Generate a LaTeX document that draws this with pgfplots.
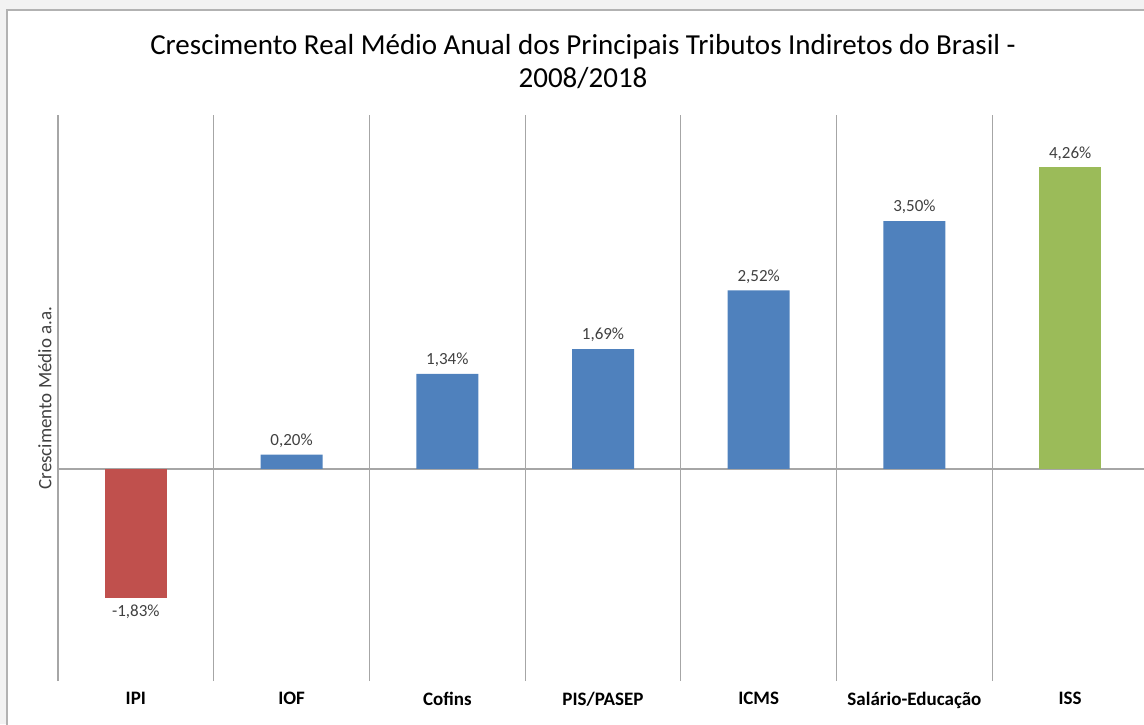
\documentclass[border=0pt]{standalone}
\usepackage{pgfplots}
\pgfplotsset{compat=1.18}
\usepackage{fontspec}
\setmainfont{Carlito}
\definecolor{cred}{HTML}{C0504D}
\definecolor{cblue}{HTML}{4F81BD}
\definecolor{cgreen}{HTML}{9BBB59}
\definecolor{gridc}{HTML}{A6A6A6}
\definecolor{txt}{HTML}{404040}
\begin{document}
\begin{tikzpicture}
\path[use as bounding box] (0,0) rectangle (572pt,362pt);
\fill[black!5] (0,0) rectangle (3.5pt,362pt);
\fill[black!5] (0,357pt) rectangle (572pt,362pt);
\draw[gray!60, line width=0.6pt] (3.5pt,-1pt) -- (3.5pt,357pt) -- (573pt,357pt);
\node[align=center, font=\fontsize{14.5}{16.5}\selectfont, text=black] at (291.5pt,331pt)
  {Crescimento Real Médio Anual dos Principais Tributos Indiretos do Brasil -\\2008/2018};
\begin{axis}[
  at={(29pt,21.5pt)}, anchor=south west,
  scale only axis, width=545pt, height=283pt,
  xmin=-0.5, xmax=6.5, ymin=-3, ymax=5,
  axis line style={draw=none},
  ytick=\empty,
  xtick={0,1,2,3,4,5,6},
  xticklabels={IPI,IOF,Cofins,PIS/PASEP,ICMS,Salário-Educação,ISS},
  xticklabel style={font=\fontsize{9.5}{10}\selectfont\bfseries, text=black, yshift=-2pt},
  minor xtick={-0.5,0.5,1.5,2.5,3.5,4.5,5.5},
  xminorgrids, minor grid style={gridc, line width=0.6pt},
  major tick length=0pt, minor tick length=0pt,
  extra y ticks={0}, extra y tick labels={},
  extra y tick style={grid=major, major grid style={gridc, line width=0.8pt}},
  ybar, bar width=31pt, bar shift=0pt,
  nodes near coords={\pgfmathprintnumber[fixed, fixed zerofill, precision=2, use comma, assume math mode=true]{\pgfplotspointmeta}\%},
  every node near coord/.append style={font=\fontsize{8.5}{10}\selectfont, text=txt},
  clip=false,
]
\addplot[fill=cred, draw=none] coordinates {(0,-1.83)};
\addplot[fill=cblue, draw=none] coordinates {(1,0.20) (2,1.34) (3,1.69) (4,2.52) (5,3.50)};
\addplot[fill=cgreen, draw=none] coordinates {(6,4.26)};
\node[rotate=90, font=\fontsize{9.5}{10}\selectfont, text=txt] at (axis description cs:-0.012,0.5) {Crescimento Médio a.a.};
\end{axis}
\end{tikzpicture}
\end{document}
